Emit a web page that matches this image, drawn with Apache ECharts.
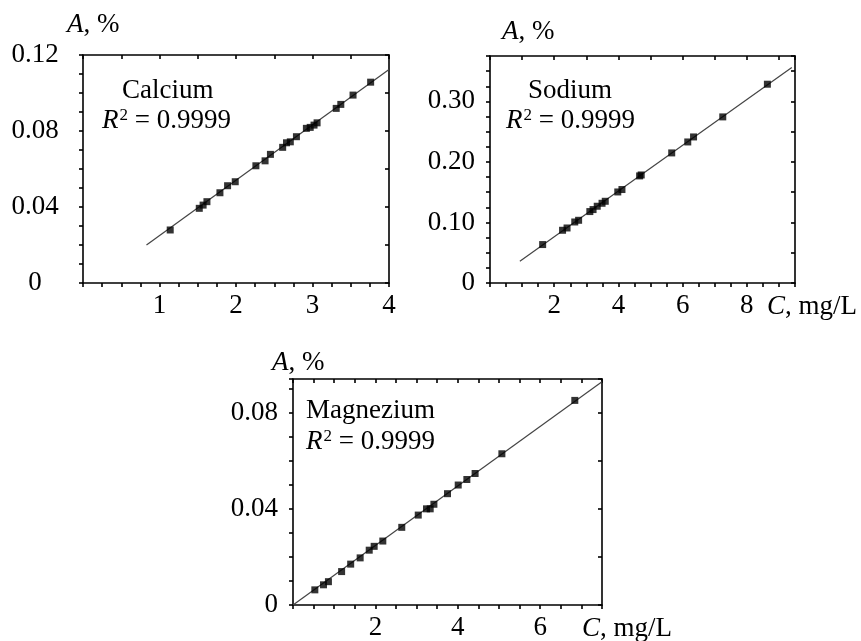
<!DOCTYPE html>
<html>
<head>
<meta charset="utf-8">
<script src="https://cdn.jsdelivr.net/npm/echarts@6/dist/echarts.min.js"></script>
<style>html,body{margin:0;padding:0;background:#fff}#c{width:861px;height:641px}</style>
</head>
<body>
<div id="c"></div>
<script>
// ---- Data ----
const caC = [1.14,1.52,1.57,1.62,1.79,1.89,1.99,2.26,2.38,2.45,2.61,2.66,2.71,2.79,2.92,2.97,3.02,3.06,3.31,3.37,3.53,3.76];
const caA = [0.0279,0.0393,0.0410,0.0428,0.0475,0.0512,0.0533,0.0617,0.0643,0.0677,0.0714,0.0738,0.0743,0.0770,0.0814,0.0819,0.0831,0.0843,0.0919,0.0940,0.0989,0.1057];
const caFitC = [0.83, 4.0];
const caFitA = [0.020, 0.1124];

const naC = [1.64,2.26,2.40,2.64,2.76,3.11,3.21,3.34,3.49,3.59,3.98,4.11,4.66,4.71,5.66,6.16,6.34,7.25,8.64];
const naA = [0.0635,0.0871,0.0909,0.1008,0.1036,0.1180,0.1213,0.1268,0.1317,0.1350,0.1504,0.1544,0.1769,0.1785,0.2149,0.2330,0.2413,0.2744,0.3284];
const naFitC = [0.93, 9.4];
const naFitA = [0.036, 0.356];

const mgC = [0.53,0.74,0.86,1.18,1.40,1.63,1.85,1.97,2.18,2.64,3.04,3.24,3.33,3.42,3.75,4.01,4.22,4.42,5.07,6.84];
const mgA = [0.0063,0.0084,0.0097,0.0139,0.0170,0.0196,0.0228,0.0244,0.0266,0.0323,0.0374,0.0400,0.0400,0.0419,0.0463,0.0499,0.0522,0.0547,0.0629,0.0851];
const mgFitC = [0.0, 7.5];
const mgFitA = [0.0, 0.0929];

const caXTicks = [1,2,3,4];
const caYTicks = [0,0.04,0.08,0.12];
const naXTicks = [2,4,6,8];
const naYTicks = [0,0.10,0.20,0.30];
const mgXTicks = [2,4,6];
const mgYTicks = [0,0.04,0.08];

const FONT = "'Liberation Serif','Times New Roman',serif";
const FS = 27;
const zip = (a,b) => a.map((v,i)=>[v,b[i]]);
const near = (v, list) => list.find(t => Math.abs(t - v) < 1e-7);
const yFmt = (list) => v => { const t = near(v, list); return t === undefined ? '' : (t === 0 ? '0' : t.toFixed(2)); };
const xFmt = (list) => v => { const t = near(v, list); return t === undefined ? '' : String(t); };

const grids = [
  {left: 83, top: 55, width: 306, height: 228},
  {left: 490, top: 56, width: 305, height: 227},
  {left: 293, top: 379, width: 309, height: 230}
];
const panels = [
  {xMax: 4, xInt: 0.25, xTopInt: 0.5, yMax: 0.12, yInt: 0.01, yRightInt: 0.02, xt: caXTicks, yt: caYTicks, yAlign: 'center', yMargin: 48, c: caC, a: caA, fc: caFitC, fa: caFitA},
  {xMax: 9.5, xInt: 0.5, xTopInt: 1, yMax: 0.375, yInt: 0.025, yRightInt: 0.05, xt: naXTicks, yt: naYTicks, yAlign: 'right', yMargin: 15, c: naC, a: naA, fc: naFitC, fa: naFitA},
  {xMax: 7.5, xInt: 0.5, xTopInt: 0.5, yMax: 0.094, yInt: 0.01, yRightInt: 0.02, xt: mgXTicks, yt: mgYTicks, yAlign: 'right', yMargin: 15, c: mgC, a: mgA, fc: mgFitC, fa: mgFitA}
];

const lineStyle = {color: '#000', width: 1.6};
const xAxis = [], yAxis = [], series = [];
panels.forEach((p, i) => {
  xAxis.push({type: 'value', gridIndex: i, position: 'bottom', min: 0, max: p.xMax, interval: p.xInt,
    axisLine: {show: true, onZero: false, lineStyle}, axisTick: {show: true, inside: false, length: 4, lineStyle},
    axisLabel: {show: true, margin: 9, formatter: xFmt(p.xt), color: '#000', fontFamily: FONT, fontSize: FS, showMinLabel: true, showMaxLabel: true},
    splitLine: {show: false}});
  xAxis.push({type: 'value', gridIndex: i, position: 'top', min: 0, max: p.xMax, interval: p.xTopInt,
    axisLine: {show: true, onZero: false, lineStyle}, axisTick: {show: true, inside: true, length: 4, lineStyle},
    axisLabel: {show: false}, splitLine: {show: false}});
  yAxis.push({type: 'value', gridIndex: i, position: 'left', min: 0, max: p.yMax, interval: p.yInt,
    axisLine: {show: true, onZero: false, lineStyle}, axisTick: {show: true, inside: false, length: 4, lineStyle},
    axisLabel: {show: true, margin: p.yMargin, align: p.yAlign, formatter: yFmt(p.yt), color: '#000', fontFamily: FONT, fontSize: FS, showMinLabel: true, showMaxLabel: true},
    splitLine: {show: false}});
  yAxis.push({type: 'value', gridIndex: i, position: 'right', min: 0, max: p.yMax, interval: p.yRightInt,
    axisLine: {show: true, onZero: false, lineStyle}, axisTick: {show: true, inside: true, length: 4, lineStyle},
    axisLabel: {show: false}, splitLine: {show: false}});
  series.push({type: 'line', xAxisIndex: 2*i, yAxisIndex: 2*i, data: zip(p.fc, p.fa), showSymbol: false, symbol: 'none',
    lineStyle: {color: '#444', width: 1.2}, silent: true, animation: false, z: 2});
  series.push({type: 'scatter', xAxisIndex: 2*i, yAxisIndex: 2*i, data: zip(p.c, p.a), symbol: 'rect', symbolSize: 7,
    itemStyle: {color: '#000'}, silent: true, animation: false, z: 3});
});

const ts = {fontFamily: FONT, fontSize: FS, fontWeight: 'normal', color: '#000', lineHeight: FS,
  rich: {
    i: {fontFamily: FONT, fontSize: FS, fontStyle: 'italic', color: '#000', lineHeight: FS},
    s: {fontFamily: FONT, fontSize: 17, color: '#000', lineHeight: 17, verticalAlign: 'top', padding: [0, 0, 0, 1]}
  }};
const T = (text, left, top) => ({text, left, top, padding: 0, textStyle: ts});
const titles = [
  T('{i|A}, %', 67, 11),
  T('Calcium', 122, 77),
  T('{i|R}{s|2} = 0.9999', 102, 107),
  T('{i|A}, %', 502, 18),
  T('Sodium', 528, 77),
  T('{i|R}{s|2} = 0.9999', 506, 107),
  T('{i|C}, mg/L', 767, 293),
  T('{i|A}, %', 272, 349),
  T('Magnezium', 306, 397),
  T('{i|R}{s|2} = 0.9999', 306, 428),
  T('{i|C}, mg/L', 582, 615)
];

const chart = echarts.init(document.getElementById('c'), null, {renderer: 'canvas'});
chart.setOption({animation: false, backgroundColor: '#fff', title: titles, grid: grids, xAxis, yAxis, series});
</script>
</body>
</html>
